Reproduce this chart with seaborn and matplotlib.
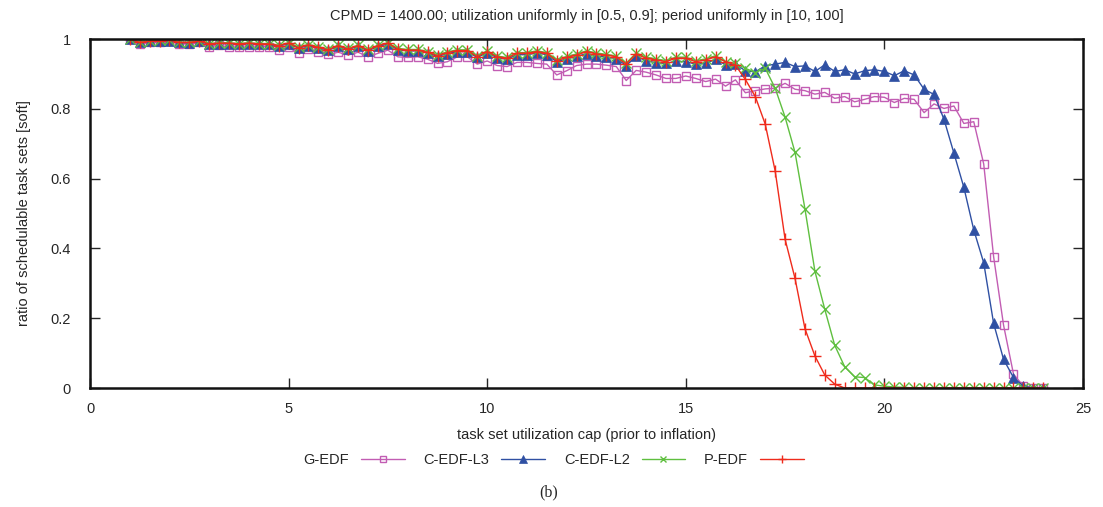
import numpy as np
import pandas as pd
import matplotlib
matplotlib.use("Agg")
import matplotlib.pyplot as plt
import seaborn as sns

util = [1 + 0.25 * i for i in range(93)]

g_edf = [1.0, 0.986, 0.99, 0.99, 0.994, 0.986, 0.986, 0.99, 0.978, 0.982, 0.976, 0.978, 0.976, 0.978, 0.978, 0.968, 0.976, 0.959, 0.971, 0.964, 0.956,
         0.962, 0.954, 0.962, 0.949, 0.959, 0.968, 0.949, 0.947, 0.949, 0.942, 0.930,
         0.935, 0.949, 0.949, 0.928, 0.937, 0.924, 0.921, 0.933, 0.933, 0.930, 0.928, 0.897, 0.909, 0.924, 0.928, 0.928, 0.925, 0.921, 0.881, 0.910, 0.905, 0.897, 0.887, 0.887, 0.894, 0.887, 0.878, 0.885, 0.865, 0.883, 0.846, 0.852, 0.857, 0.859, 0.873,
         0.856, 0.852, 0.842, 0.847, 0.830, 0.835, 0.820, 0.827, 0.835, 0.833, 0.818, 0.830, 0.827, 0.789, 0.814, 0.801, 0.808, 0.758, 0.763, 0.642, 0.376, 0.180, 0.040, 0.005, 0.0, 0.0]

c_edf_l3 = [1.0, 0.99, 0.993, 0.995, 0.995, 0.99, 0.989, 0.993, 0.985, 0.987, 0.987, 0.985, 0.987, 0.985, 0.985, 0.98, 0.986, 0.974, 0.981, 0.975, 0.968,
            0.979, 0.97, 0.979, 0.966, 0.979, 0.985, 0.969, 0.966, 0.966, 0.96, 0.95,
            0.958, 0.964, 0.964, 0.947, 0.961, 0.946, 0.942, 0.955, 0.955, 0.96, 0.955, 0.935, 0.943, 0.95, 0.958, 0.952, 0.948, 0.944, 0.924, 0.95, 0.938, 0.932, 0.93, 0.936, 0.935, 0.928,
            0.930, 0.942, 0.926, 0.928, 0.909, 0.906, 0.923, 0.928, 0.933, 0.921, 0.923, 0.907, 0.926, 0.907, 0.912, 0.900, 0.909, 0.912, 0.907, 0.895, 0.909, 0.897, 0.856, 0.841, 0.770, 0.673, 0.575, 0.453, 0.359, 0.185, 0.082, 0.030, 0.005, 0.0, 0.0]

c_edf_l2 = [1.0, 0.992, 0.995, 0.996, 0.998, 0.991, 0.991, 0.995, 0.987, 0.989, 0.989, 0.987, 0.989, 0.987, 0.987, 0.982, 0.989, 0.977, 0.984, 0.978, 0.971,
            0.982, 0.973, 0.982, 0.97, 0.982, 0.989, 0.973, 0.97, 0.97, 0.964, 0.955,
            0.963, 0.969, 0.969, 0.952, 0.966, 0.951, 0.947, 0.961, 0.961, 0.966, 0.961, 0.941, 0.95, 0.957, 0.966, 0.96, 0.956, 0.951, 0.931, 0.96, 0.948, 0.943, 0.938, 0.948, 0.948, 0.938, 0.943, 0.952,
            0.935, 0.930, 0.916, 0.904, 0.916, 0.859, 0.776, 0.675, 0.513, 0.335, 0.225, 0.122, 0.061, 0.032, 0.030, 0.009, 0.005, 0.003, 0.002,
            0.0, 0.0, 0.0, 0.0, 0.0, 0.0, 0.0, 0.0, 0.0, 0.0, 0.0, 0.0, 0.0, 0.0]

p_edf = [1.0, 0.99, 0.994, 0.995, 0.997, 0.99, 0.99, 0.994, 0.986, 0.988, 0.988, 0.986, 0.988, 0.986, 0.986, 0.981, 0.988, 0.975, 0.983, 0.976, 0.969,
         0.981, 0.971, 0.981, 0.968, 0.981, 0.988, 0.971, 0.968, 0.968, 0.962, 0.952,
         0.961, 0.967, 0.967, 0.949, 0.964, 0.949, 0.945, 0.959, 0.959, 0.964, 0.959, 0.938, 0.947, 0.954, 0.964, 0.957, 0.954, 0.949, 0.928, 0.957, 0.945, 0.940, 0.935, 0.945, 0.945, 0.935, 0.940, 0.949, 0.935, 0.925, 0.884, 0.835, 0.756,
         0.622, 0.426, 0.314, 0.170, 0.092, 0.037, 0.011,
         0.0, 0.0, 0.0, 0.0, 0.0, 0.0, 0.0, 0.0, 0.0, 0.0, 0.0, 0.0, 0.0, 0.0, 0.0, 0.0, 0.0, 0.0, 0.0, 0.0, 0.0]

series_names = ["G-EDF", "C-EDF-L3", "C-EDF-L2", "P-EDF"]
x_ticks = [0, 5, 10, 15, 20, 25]
y_ticks = [0, 0.2, 0.4, 0.6, 0.8, 1]
y_ticklabels = ["0", "0.2", "0.4", "0.6", "0.8", "1"]

sns.set_style("ticks")
plt.rcParams['font.family'] = ['Liberation Sans', 'DejaVu Sans']

fig = plt.figure(figsize=(11.03, 5.07), dpi=100)
ax = fig.add_axes([90/1103, 1-388/507, (1083-90)/1103, (388-39)/507])

styles = {
    "G-EDF": dict(color="#c25db3", marker="s", ms=6, mfc="none", mec="#c25db3", mew=1.0),
    "C-EDF-L3": dict(color="#2f50a3", marker="^", ms=7.5, mfc="#2f50a3", mec="#2f50a3", mew=0.5),
    "C-EDF-L2": dict(color="#5fbf3f", marker="x", ms=6.5, mec="#5fbf3f", mfc="#5fbf3f", mew=1.0),
    "P-EDF": dict(color="#ef2b1c", marker="+", ms=8, mec="#ef2b1c", mfc="#ef2b1c", mew=1.0),
}
values = {"G-EDF": g_edf, "C-EDF-L3": c_edf_l3, "C-EDF-L2": c_edf_l2, "P-EDF": p_edf}

for name in series_names:
    df = pd.DataFrame({"util": util, "ratio": values[name]})
    st = styles[name]
    sns.lineplot(data=df, x="util", y="ratio", ax=ax, lw=1.0, label=name, **st)
handles = list(ax.get_lines())
if ax.get_legend():
    ax.get_legend().remove()

ax.set_xlim(0, 25)
ax.set_ylim(0, 1)
ax.set_xticks(x_ticks)
ax.set_xticklabels([str(t) for t in x_ticks])
ax.set_yticks(y_ticks)
ax.set_yticklabels(y_ticklabels)
ax.tick_params(direction="in", top=True, right=True, length=7, width=1.0, labelsize=10.5)
ax.tick_params(axis="y", pad=14)
ax.tick_params(axis="x", pad=10)
for sp in ax.spines.values():
    sp.set_visible(True)
    sp.set_linewidth(1.8)
    sp.set_color("#111111")

ax.set_xlabel("task set utilization cap (prior to inflation)", fontsize=10.5, labelpad=9)
ax.set_ylabel("ratio of schedulable task sets [soft]", fontsize=10.5, labelpad=14)
ax.set_title("CPMD = 1400.00; utilization uniformly in [0.5, 0.9]; period uniformly in [10, 100]", fontsize=10.5, pad=14)

fig.legend(handles, series_names, loc="center", bbox_to_anchor=(0.502, 0.093), ncol=4, frameon=False,
           markerfirst=False, handlelength=3.0, columnspacing=1.3, handletextpad=0.8, fontsize=10.5,
           markerscale=0.75)

fig.text(0.497, 1-492/507, "(b)", family=["Liberation Serif", "DejaVu Serif"], fontsize=11.5, ha="center", va="center")

fig.savefig("out.png", dpi=100)
